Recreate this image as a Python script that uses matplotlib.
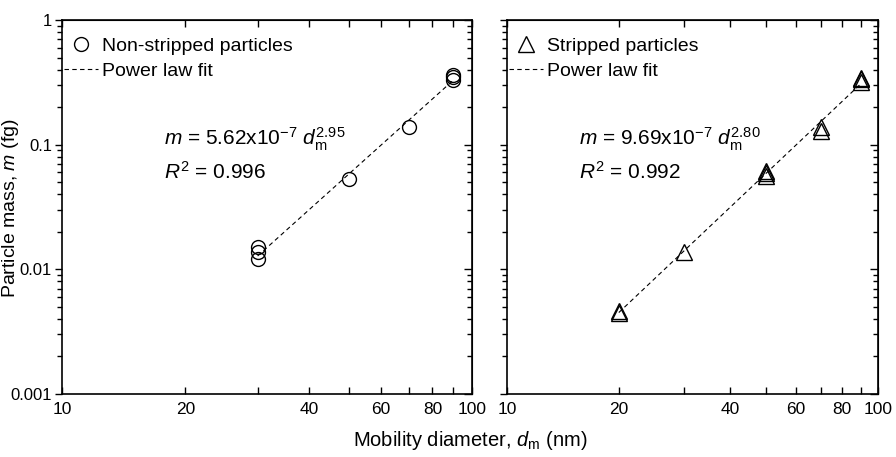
import numpy as np
import matplotlib
matplotlib.use('Agg')
import matplotlib.pyplot as plt
from matplotlib.ticker import FixedLocator, NullFormatter, LogLocator

plt.rcParams['font.family'] = ['Liberation Sans', 'DejaVu Sans']
plt.rcParams['mathtext.fontset'] = 'custom'
plt.rcParams['mathtext.rm'] = 'Liberation Sans'
plt.rcParams['mathtext.it'] = 'Liberation Sans:italic'

# 数据
ns_d = [30, 30, 30, 50, 70, 90, 90, 90]
ns_m = [0.0152, 0.0138, 0.0122, 0.053, 0.14, 0.33, 0.35, 0.365]
ns_fit_d = [30, 90]
ns_fit_m = [0.0128, 0.33]

st_d = [20, 20, 30, 50, 50, 50, 70, 70, 90, 90, 90]
st_m = [0.0046, 0.0045, 0.0138, 0.056, 0.059, 0.062, 0.13, 0.14, 0.32, 0.335, 0.345]
st_fit_d = [20, 90]
st_fit_m = [0.0045, 0.31]

x_labels = [10, 20, 40, 60, 80, 100]
y_labels = [0.001, 0.01, 0.1, 1]

fig = plt.figure(figsize=(8.96, 4.57), dpi=100)
ax1 = fig.add_axes([0.069, 0.138, 0.458, 0.818])
ax2 = fig.add_axes([0.566, 0.138, 0.414, 0.818])


def style(ax, show_y):
    ax.set_xscale('log')
    ax.set_yscale('log')
    ax.set_xlim(10, 100)
    ax.set_ylim(0.001, 1)
    ax.xaxis.set_major_locator(FixedLocator(x_labels))
    ax.xaxis.set_minor_locator(FixedLocator([30, 50, 70, 90]))
    ax.xaxis.set_minor_formatter(NullFormatter())
    ax.set_xticklabels([str(v) for v in x_labels])
    ax.yaxis.set_major_locator(FixedLocator(y_labels))
    ax.yaxis.set_minor_locator(LogLocator(base=10, subs=np.arange(2, 10)))
    ax.yaxis.set_minor_formatter(NullFormatter())
    if show_y:
        ax.set_yticklabels(['0.001', '0.01', '0.1', '1'])
    else:
        ax.set_yticklabels([])
    ax.tick_params(axis='x', which='major', direction='in', length=5, width=1, labelsize=12.5, pad=6)
    ax.tick_params(axis='x', which='minor', direction='in', length=5, width=1)
    ax.tick_params(axis='y', which='major', direction='out', length=5, width=1, labelsize=12, pad=2)
    ax.tick_params(axis='y', which='minor', direction='out', length=3.5, width=1)
    for s in ax.spines.values():
        s.set_linewidth(1.2)
    top = ax.secondary_xaxis('top')
    top.xaxis.set_major_locator(FixedLocator(x_labels))
    top.xaxis.set_minor_locator(FixedLocator([30, 50, 70, 90]))
    top.tick_params(which='both', direction='in', length=5, width=1, labeltop=False)
    top.xaxis.set_major_formatter(NullFormatter())
    top.xaxis.set_minor_formatter(NullFormatter())
    right = ax.secondary_yaxis('right')
    right.yaxis.set_major_locator(FixedLocator(y_labels))
    right.yaxis.set_minor_locator(LogLocator(base=10, subs=np.arange(2, 10)))
    right.tick_params(which='major', direction='in', length=6, width=1, labelright=False)
    right.tick_params(which='minor', direction='in', length=3.5, width=1, labelright=False)
    right.yaxis.set_major_formatter(NullFormatter())
    right.yaxis.set_minor_formatter(NullFormatter())


style(ax1, True)
style(ax2, False)

leg_kw = dict(loc='upper left', bbox_to_anchor=(0.0, 0.96), frameon=False, fontsize=14,
              handlelength=1.75, handletextpad=0.2, borderaxespad=0, borderpad=0.1,
              labelspacing=0.4)

ax1.plot(ns_d, ns_m, 'o', mfc='none', mec='black', ms=10, mew=1, ls='none',
         label='Non-stripped particles')
ax1.plot(ns_fit_d, ns_fit_m, '--', color='black', lw=0.8, dashes=(4, 3), label='Power law fit')
ax1.legend(**leg_kw)
ax1.text(0.25, 0.68, r'$m$ = 5.62x10$^{-7}$ $d_{\mathrm{m}}^{2.95}$', transform=ax1.transAxes,
         fontsize=15, va='center')
ax1.text(0.25, 0.595, r'$R^2$ = 0.996', transform=ax1.transAxes, fontsize=15, va='center')

ax2.plot(st_d, st_m, '^', mfc='none', mec='black', ms=11, mew=1, ls='none',
         label='Stripped particles')
ax2.plot(st_fit_d, st_fit_m, '--', color='black', lw=0.8, dashes=(4, 3), label='Power law fit')
ax2.legend(**leg_kw)
ax2.text(0.195, 0.68, r'$m$ = 9.69x10$^{-7}$ $d_{\mathrm{m}}^{2.80}$', transform=ax2.transAxes,
         fontsize=15, va='center')
ax2.text(0.195, 0.595, r'$R^2$ = 0.992', transform=ax2.transAxes, fontsize=15, va='center')

fig.text(0.525, 0.025, r'Mobility diameter, $d_{\mathrm{m}}$ (nm)', ha='center', fontsize=14.5)
fig.text(0.012, 0.545, r'Particle mass, $m$ (fg)', rotation=90, va='center', ha='center', fontsize=14)

fig.savefig('out.png', dpi=100)
